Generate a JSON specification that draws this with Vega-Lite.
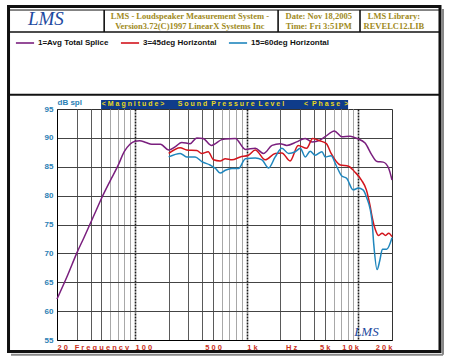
{
  "$schema": "https://vega.github.io/schema/vega-lite/v6.json",
  "width": 335,
  "height": 231,
  "autosize": {"type": "none"},
  "padding": {"left": 57, "top": 109, "right": 58, "bottom": 23},
  "background": "white",
  "config": {
    "view": {"stroke": "#333333", "strokeWidth": 1},
    "font": "Liberation Sans",
    "axis": {"labelOverlap": false}
  },
  "resolve": {"axis": {"x": "independent", "y": "independent"}},
  "data": {"values": [{}]},
  "datasets": {
    "curves": [
      {"series": "1=Avg Total Splice", "f": 20, "db": 62.1},
      {"series": "1=Avg Total Splice", "f": 25, "db": 66.3},
      {"series": "1=Avg Total Splice", "f": 30, "db": 70.0},
      {"series": "1=Avg Total Splice", "f": 35, "db": 72.8},
      {"series": "1=Avg Total Splice", "f": 40, "db": 75.3},
      {"series": "1=Avg Total Splice", "f": 45, "db": 77.5},
      {"series": "1=Avg Total Splice", "f": 50, "db": 79.5},
      {"series": "1=Avg Total Splice", "f": 60, "db": 82.6},
      {"series": "1=Avg Total Splice", "f": 70, "db": 85.1},
      {"series": "1=Avg Total Splice", "f": 80, "db": 87.6},
      {"series": "1=Avg Total Splice", "f": 90, "db": 88.9},
      {"series": "1=Avg Total Splice", "f": 100, "db": 89.4},
      {"series": "1=Avg Total Splice", "f": 110, "db": 89.5},
      {"series": "1=Avg Total Splice", "f": 125, "db": 89.2},
      {"series": "1=Avg Total Splice", "f": 141, "db": 88.9},
      {"series": "1=Avg Total Splice", "f": 169, "db": 88.9},
      {"series": "1=Avg Total Splice", "f": 200, "db": 87.9},
      {"series": "1=Avg Total Splice", "f": 230, "db": 88.5},
      {"series": "1=Avg Total Splice", "f": 262, "db": 89.2},
      {"series": "1=Avg Total Splice", "f": 311, "db": 89.0},
      {"series": "1=Avg Total Splice", "f": 357, "db": 90.0},
      {"series": "1=Avg Total Splice", "f": 407, "db": 89.9},
      {"series": "1=Avg Total Splice", "f": 485, "db": 88.7},
      {"series": "1=Avg Total Splice", "f": 598, "db": 89.7},
      {"series": "1=Avg Total Splice", "f": 643, "db": 89.8},
      {"series": "1=Avg Total Splice", "f": 790, "db": 89.9},
      {"series": "1=Avg Total Splice", "f": 973, "db": 88.0},
      {"series": "1=Avg Total Splice", "f": 1194, "db": 88.2},
      {"series": "1=Avg Total Splice", "f": 1414, "db": 87.3},
      {"series": "1=Avg Total Splice", "f": 1685, "db": 88.7},
      {"series": "1=Avg Total Splice", "f": 1992, "db": 89.0},
      {"series": "1=Avg Total Splice", "f": 2283, "db": 88.7},
      {"series": "1=Avg Total Splice", "f": 2800, "db": 89.3},
      {"series": "1=Avg Total Splice", "f": 3340, "db": 89.9},
      {"series": "1=Avg Total Splice", "f": 3840, "db": 89.3},
      {"series": "1=Avg Total Splice", "f": 4250, "db": 89.4},
      {"series": "1=Avg Total Splice", "f": 5040, "db": 90.2},
      {"series": "1=Avg Total Splice", "f": 6090, "db": 91.2},
      {"series": "1=Avg Total Splice", "f": 7100, "db": 90.2},
      {"series": "1=Avg Total Splice", "f": 8420, "db": 90.3},
      {"series": "1=Avg Total Splice", "f": 9700, "db": 89.9},
      {"series": "1=Avg Total Splice", "f": 11480, "db": 89.1},
      {"series": "1=Avg Total Splice", "f": 13220, "db": 87.0},
      {"series": "1=Avg Total Splice", "f": 14700, "db": 85.9},
      {"series": "1=Avg Total Splice", "f": 16700, "db": 85.8},
      {"series": "1=Avg Total Splice", "f": 18700, "db": 84.7},
      {"series": "1=Avg Total Splice", "f": 20000, "db": 82.7},
      {"series": "3=45deg Horizontal", "f": 200, "db": 87.3},
      {"series": "3=45deg Horizontal", "f": 254, "db": 88.3},
      {"series": "3=45deg Horizontal", "f": 290, "db": 87.9},
      {"series": "3=45deg Horizontal", "f": 357, "db": 87.8},
      {"series": "3=45deg Horizontal", "f": 396, "db": 87.3},
      {"series": "3=45deg Horizontal", "f": 452, "db": 87.6},
      {"series": "3=45deg Horizontal", "f": 504, "db": 86.2},
      {"series": "3=45deg Horizontal", "f": 578, "db": 86.0},
      {"series": "3=45deg Horizontal", "f": 643, "db": 86.4},
      {"series": "3=45deg Horizontal", "f": 738, "db": 86.2},
      {"series": "3=45deg Horizontal", "f": 875, "db": 86.7},
      {"series": "3=45deg Horizontal", "f": 1036, "db": 87.0},
      {"series": "3=45deg Horizontal", "f": 1194, "db": 87.9},
      {"series": "3=45deg Horizontal", "f": 1465, "db": 86.2},
      {"series": "3=45deg Horizontal", "f": 1800, "db": 87.3},
      {"series": "3=45deg Horizontal", "f": 2065, "db": 87.4},
      {"series": "3=45deg Horizontal", "f": 2445, "db": 86.0},
      {"series": "3=45deg Horizontal", "f": 2890, "db": 88.7},
      {"series": "3=45deg Horizontal", "f": 3440, "db": 88.2},
      {"series": "3=45deg Horizontal", "f": 3900, "db": 89.9},
      {"series": "3=45deg Horizontal", "f": 4500, "db": 89.5},
      {"series": "3=45deg Horizontal", "f": 5170, "db": 89.0},
      {"series": "3=45deg Horizontal", "f": 5700, "db": 87.3},
      {"series": "3=45deg Horizontal", "f": 6880, "db": 85.3},
      {"series": "3=45deg Horizontal", "f": 8160, "db": 85.1},
      {"series": "3=45deg Horizontal", "f": 9300, "db": 84.1},
      {"series": "3=45deg Horizontal", "f": 10650, "db": 82.7},
      {"series": "3=45deg Horizontal", "f": 11790, "db": 81.0},
      {"series": "3=45deg Horizontal", "f": 12800, "db": 78.0},
      {"series": "3=45deg Horizontal", "f": 13220, "db": 76.5},
      {"series": "3=45deg Horizontal", "f": 14200, "db": 74.1},
      {"series": "3=45deg Horizontal", "f": 15200, "db": 73.1},
      {"series": "3=45deg Horizontal", "f": 16300, "db": 73.5},
      {"series": "3=45deg Horizontal", "f": 17500, "db": 73.1},
      {"series": "3=45deg Horizontal", "f": 18700, "db": 73.5},
      {"series": "3=45deg Horizontal", "f": 20000, "db": 72.9},
      {"series": "15=60deg Horizontal", "f": 200, "db": 86.7},
      {"series": "15=60deg Horizontal", "f": 254, "db": 87.3},
      {"series": "15=60deg Horizontal", "f": 290, "db": 86.7},
      {"series": "15=60deg Horizontal", "f": 345, "db": 86.7},
      {"series": "15=60deg Horizontal", "f": 396, "db": 85.9},
      {"series": "15=60deg Horizontal", "f": 470, "db": 85.3},
      {"series": "15=60deg Horizontal", "f": 526, "db": 84.7},
      {"series": "15=60deg Horizontal", "f": 578, "db": 83.9},
      {"series": "15=60deg Horizontal", "f": 643, "db": 84.4},
      {"series": "15=60deg Horizontal", "f": 738, "db": 84.7},
      {"series": "15=60deg Horizontal", "f": 845, "db": 84.7},
      {"series": "15=60deg Horizontal", "f": 973, "db": 86.4},
      {"series": "15=60deg Horizontal", "f": 1194, "db": 86.5},
      {"series": "15=60deg Horizontal", "f": 1370, "db": 86.2},
      {"series": "15=60deg Horizontal", "f": 1570, "db": 84.8},
      {"series": "15=60deg Horizontal", "f": 1800, "db": 86.7},
      {"series": "15=60deg Horizontal", "f": 2065, "db": 88.2},
      {"series": "15=60deg Horizontal", "f": 2370, "db": 87.3},
      {"series": "15=60deg Horizontal", "f": 2720, "db": 87.6},
      {"series": "15=60deg Horizontal", "f": 3020, "db": 88.2},
      {"series": "15=60deg Horizontal", "f": 3340, "db": 86.7},
      {"series": "15=60deg Horizontal", "f": 3700, "db": 87.7},
      {"series": "15=60deg Horizontal", "f": 4100, "db": 87.0},
      {"series": "15=60deg Horizontal", "f": 4720, "db": 87.6},
      {"series": "15=60deg Horizontal", "f": 5040, "db": 86.7},
      {"series": "15=60deg Horizontal", "f": 5700, "db": 86.9},
      {"series": "15=60deg Horizontal", "f": 6300, "db": 85.3},
      {"series": "15=60deg Horizontal", "f": 7100, "db": 83.4},
      {"series": "15=60deg Horizontal", "f": 7850, "db": 83.0},
      {"series": "15=60deg Horizontal", "f": 8970, "db": 81.0},
      {"series": "15=60deg Horizontal", "f": 10000, "db": 81.3},
      {"series": "15=60deg Horizontal", "f": 11000, "db": 81.0},
      {"series": "15=60deg Horizontal", "f": 11790, "db": 79.8},
      {"series": "15=60deg Horizontal", "f": 13220, "db": 75.8},
      {"series": "15=60deg Horizontal", "f": 13700, "db": 71.8},
      {"series": "15=60deg Horizontal", "f": 14700, "db": 67.2},
      {"series": "15=60deg Horizontal", "f": 15600, "db": 68.9},
      {"series": "15=60deg Horizontal", "f": 16400, "db": 70.7},
      {"series": "15=60deg Horizontal", "f": 17900, "db": 70.7},
      {"series": "15=60deg Horizontal", "f": 20000, "db": 72.7}
    ]
  },
  "layer": [
    {
      "data": {"name": "curves"},
      "mark": {"type": "line", "interpolate": "monotone", "strokeWidth": 1.5},
      "encoding": {
        "x": {
          "field": "f", "type": "quantitative",
          "scale": {"type": "log", "domain": [20, 20000], "nice": false},
          "axis": {
            "orient": "bottom",
            "title": null,
            "values": [20, 30, 40, 50, 60, 70, 80, 90, 100, 200, 300, 400, 500, 600, 700, 800, 900, 1000, 2000, 2500, 3000, 4000, 5000, 6000, 7000, 8000, 9000, 10000, 20000],
            "labelExpr": "datum.value == 20 ? '2 0' : datum.value == 50 ? 'F r e q u e n c y' : datum.value == 100 ? '1 0 0' : datum.value == 500 ? '5 0 0' : datum.value == 1000 ? '1 k' : datum.value == 2500 ? 'H z' : datum.value == 5000 ? '5 k' : datum.value == 10000 ? '1 0 k' : datum.value == 20000 ? '2 0 k' : ''",
            "labelOverlap": false,
            "labelFlush": false,
            "labelAlign": {"condition": [
              {"test": "indexof([20, 100, 1000], datum.value) >= 0", "value": "left"},
              {"test": "indexof([10000, 20000], datum.value) >= 0", "value": "right"}
            ], "value": "center"},
            "labelFont": "Liberation Sans",
            "labelFontWeight": "bold",
            "labelFontSize": 7.5,
            "labelColor": "#c9301c",
            "labelPadding": 3,
            "ticks": false,
            "domain": true,
            "domainColor": "#000000",
            "grid": true,
            "gridColor": {"condition": [
              {"test": "indexof([100, 1000, 10000], datum.value) >= 0", "value": "#1a1a1a"},
              {"test": "indexof([60, 70, 80, 90, 600, 700, 800, 900, 6000, 7000, 8000, 9000], datum.value) >= 0", "value": "#a8a8a8"}
            ], "value": "#5a5a5a"},
            "gridWidth": {"condition": {"test": "indexof([100, 1000, 10000], datum.value) >= 0", "value": 1.6}, "value": 1},
            "gridDash": {"condition": {"test": "indexof([100, 1000, 10000], datum.value) >= 0", "value": [2, 1]}, "value": []},
            "gridOpacity": {"condition": {"test": "indexof([20, 2500, 20000], datum.value) >= 0", "value": 0}, "value": 1}
          }
        },
        "y": {
          "field": "db", "type": "quantitative",
          "scale": {"domain": [55, 95], "nice": false, "zero": false},
          "axis": {
            "orient": "left",
            "values": [55, 60, 65, 70, 75, 80, 85, 90, 95],
            "labelOverlap": false,
            "title": "dB spl",
            "titleAngle": 0,
            "titleX": 0,
            "titleY": -3,
            "titleAlign": "left",
            "titleBaseline": "bottom",
            "titleColor": "#2a80b4",
            "titleFont": "Liberation Sans",
            "titleFontSize": 8,
            "titleFontWeight": "bold",
            "labelFont": "Liberation Sans",
            "labelFontWeight": "bold",
            "labelFontSize": 8,
            "labelColor": "#2a80b4",
            "labelPadding": 4,
            "ticks": false,
            "domainColor": "#000000",
            "grid": true,
            "gridColor": "#444444",
            "gridOpacity": {"condition": {"test": "datum.value == 55 || datum.value == 95", "value": 0}, "value": 1}
          }
        },
        "color": {
          "field": "series", "type": "nominal",
          "scale": {"domain": ["1=Avg Total Splice", "3=45deg Horizontal", "15=60deg Horizontal"], "range": ["#7a1f7e", "#d2141c", "#1f86bd"]},
          "legend": {
            "orient": "none",
            "legendX": -42,
            "legendY": -76,
            "direction": "horizontal",
            "title": null,
            "symbolType": "stroke",
            "symbolSize": 330,
            "symbolStrokeWidth": 1.6,
            "labelFont": "Liberation Sans",
            "labelFontWeight": "bold",
            "labelFontSize": 8,
            "labelColor": "#111111",
            "labelOffset": 3,
            "columnPadding": 8
          }
        }
      }
    },
    {
      "mark": {"type": "rect", "fill": "#0f3c8a"},
      "encoding": {
        "x": {"datum": 49.6, "type": "quantitative", "axis": null},
        "x2": {"datum": 8090},
        "y": {"datum": 96.56, "type": "quantitative", "axis": null},
        "y2": {"datum": 95.0}
      }
    },
    {
      "mark": {"type": "text", "color": "#e8d820", "fontWeight": "bold", "fontSize": 7, "font": "Liberation Sans", "baseline": "middle"},
      "encoding": {
        "x": {"datum": 96, "type": "quantitative", "axis": null},
        "y": {"datum": 95.8, "type": "quantitative", "axis": null},
        "text": {"value": "< M a g n i t u d e >"}
      }
    },
    {
      "mark": {"type": "text", "color": "#e8d820", "fontWeight": "bold", "fontSize": 7, "font": "Liberation Sans", "baseline": "middle"},
      "encoding": {
        "x": {"datum": 722, "type": "quantitative", "axis": null},
        "y": {"datum": 95.8, "type": "quantitative", "axis": null},
        "text": {"value": "S o u n d\u00a0\u00a0P r e s s u r e\u00a0\u00a0L e v e l"}
      }
    },
    {
      "mark": {"type": "text", "color": "#e8d820", "fontWeight": "bold", "fontSize": 7, "font": "Liberation Sans", "baseline": "middle"},
      "encoding": {
        "x": {"datum": 5140, "type": "quantitative", "axis": null},
        "y": {"datum": 95.8, "type": "quantitative", "axis": null},
        "text": {"value": "<\u00a0\u00a0P h a s e\u00a0\u00a0>"}
      }
    },
    {
      "mark": {"type": "text", "color": "#1d4aa0", "fontStyle": "italic", "fontSize": 13, "font": "Liberation Serif", "baseline": "middle"},
      "encoding": {
        "x": {"datum": 11800, "type": "quantitative", "axis": null},
        "y": {"datum": 56.4, "type": "quantitative", "axis": null},
        "text": {"value": "LMS"}
      }
    },
    {
      "mark": {"type": "rect", "filled": false, "stroke": "#111111", "strokeWidth": 3},
      "encoding": {
        "x": {"datum": 7.36, "type": "quantitative", "axis": null},
        "x2": {"datum": 53800},
        "y": {"datum": 112.75, "type": "quantitative", "axis": null},
        "y2": {"datum": 53.0}
      }
    },
    {
      "mark": {"type": "rule", "stroke": "#888888", "strokeWidth": 2},
      "encoding": {
        "x": {"datum": 57240, "type": "quantitative", "axis": null},
        "y": {"datum": 112.3, "type": "quantitative", "axis": null},
        "y2": {"datum": 52.45}
      }
    },
    {
      "mark": {"type": "rule", "stroke": "#888888", "strokeWidth": 2},
      "encoding": {
        "x": {"datum": 7.75, "type": "quantitative", "axis": null},
        "x2": {"datum": 57240},
        "y": {"datum": 52.45, "type": "quantitative", "axis": null}
      }
    },
    {
      "mark": {"type": "rule", "stroke": "#111111", "strokeWidth": 1},
      "encoding": {
        "x": {"datum": 7.36, "type": "quantitative", "axis": null},
        "x2": {"datum": 53800},
        "y": {"datum": 112.14, "type": "quantitative", "axis": null}
      }
    },
    {
      "mark": {"type": "rule", "stroke": "#111111", "strokeWidth": 1.6},
      "encoding": {
        "x": {"datum": 7.36, "type": "quantitative", "axis": null},
        "x2": {"datum": 53800},
        "y": {"datum": 108.33, "type": "quantitative", "axis": null}
      }
    },
    {
      "mark": {"type": "rule", "stroke": "#111111", "strokeWidth": 2},
      "encoding": {
        "x": {"datum": 7.36, "type": "quantitative", "axis": null},
        "x2": {"datum": 53800},
        "y": {"datum": 97.46, "type": "quantitative", "axis": null}
      }
    },
    {
      "mark": {"type": "rule", "stroke": "#111111", "strokeWidth": 1.6},
      "encoding": {
        "x": {"datum": 52.9, "type": "quantitative", "axis": null},
        "y": {"datum": 112.14, "type": "quantitative", "axis": null},
        "y2": {"datum": 108.33}
      }
    },
    {
      "mark": {"type": "rule", "stroke": "#111111", "strokeWidth": 1.6},
      "encoding": {
        "x": {"datum": 1910, "type": "quantitative", "axis": null},
        "y": {"datum": 112.14, "type": "quantitative", "axis": null},
        "y2": {"datum": 108.33}
      }
    },
    {
      "mark": {"type": "rule", "stroke": "#111111", "strokeWidth": 1.6},
      "encoding": {
        "x": {"datum": 10340, "type": "quantitative", "axis": null},
        "y": {"datum": 112.14, "type": "quantitative", "axis": null},
        "y2": {"datum": 108.33}
      }
    },
    {
      "mark": {"type": "text", "color": "#1d4aa0", "fontStyle": "italic", "fontSize": 19, "font": "Liberation Serif", "baseline": "middle"},
      "encoding": {
        "x": {"datum": 15.9, "type": "quantitative", "axis": null},
        "y": {"datum": 110.5, "type": "quantitative", "axis": null},
        "text": {"value": "LMS"}
      }
    },
    {
      "mark": {"type": "text", "color": "#a08a22", "fontWeight": "bold", "fontSize": 8.5, "font": "Liberation Serif", "baseline": "middle", "lineBreak": "\n", "lineHeight": 9.5},
      "encoding": {
        "x": {"datum": 310, "type": "quantitative", "axis": null},
        "y": {"datum": 111.1, "type": "quantitative", "axis": null},
        "text": {"value": "LMS - Loudspeaker Measurement System -\nVersion3.72(C)1997 LinearX Systems Inc"}
      }
    },
    {
      "mark": {"type": "text", "color": "#a08a22", "fontWeight": "bold", "fontSize": 8.5, "font": "Liberation Serif", "baseline": "middle", "lineBreak": "\n", "lineHeight": 9.5},
      "encoding": {
        "x": {"datum": 4420, "type": "quantitative", "axis": null},
        "y": {"datum": 111.1, "type": "quantitative", "axis": null},
        "text": {"value": "Date: Nov 18,2005\nTime: Fri  3:51PM"}
      }
    },
    {
      "mark": {"type": "text", "color": "#a08a22", "fontWeight": "bold", "fontSize": 8.5, "font": "Liberation Serif", "baseline": "middle", "lineBreak": "\n", "lineHeight": 9.5},
      "encoding": {
        "x": {"datum": 20800, "type": "quantitative", "axis": null},
        "y": {"datum": 111.1, "type": "quantitative", "axis": null},
        "text": {"value": "LMS Library:\nREVELC12.LIB"}
      }
    }
  ]
}
